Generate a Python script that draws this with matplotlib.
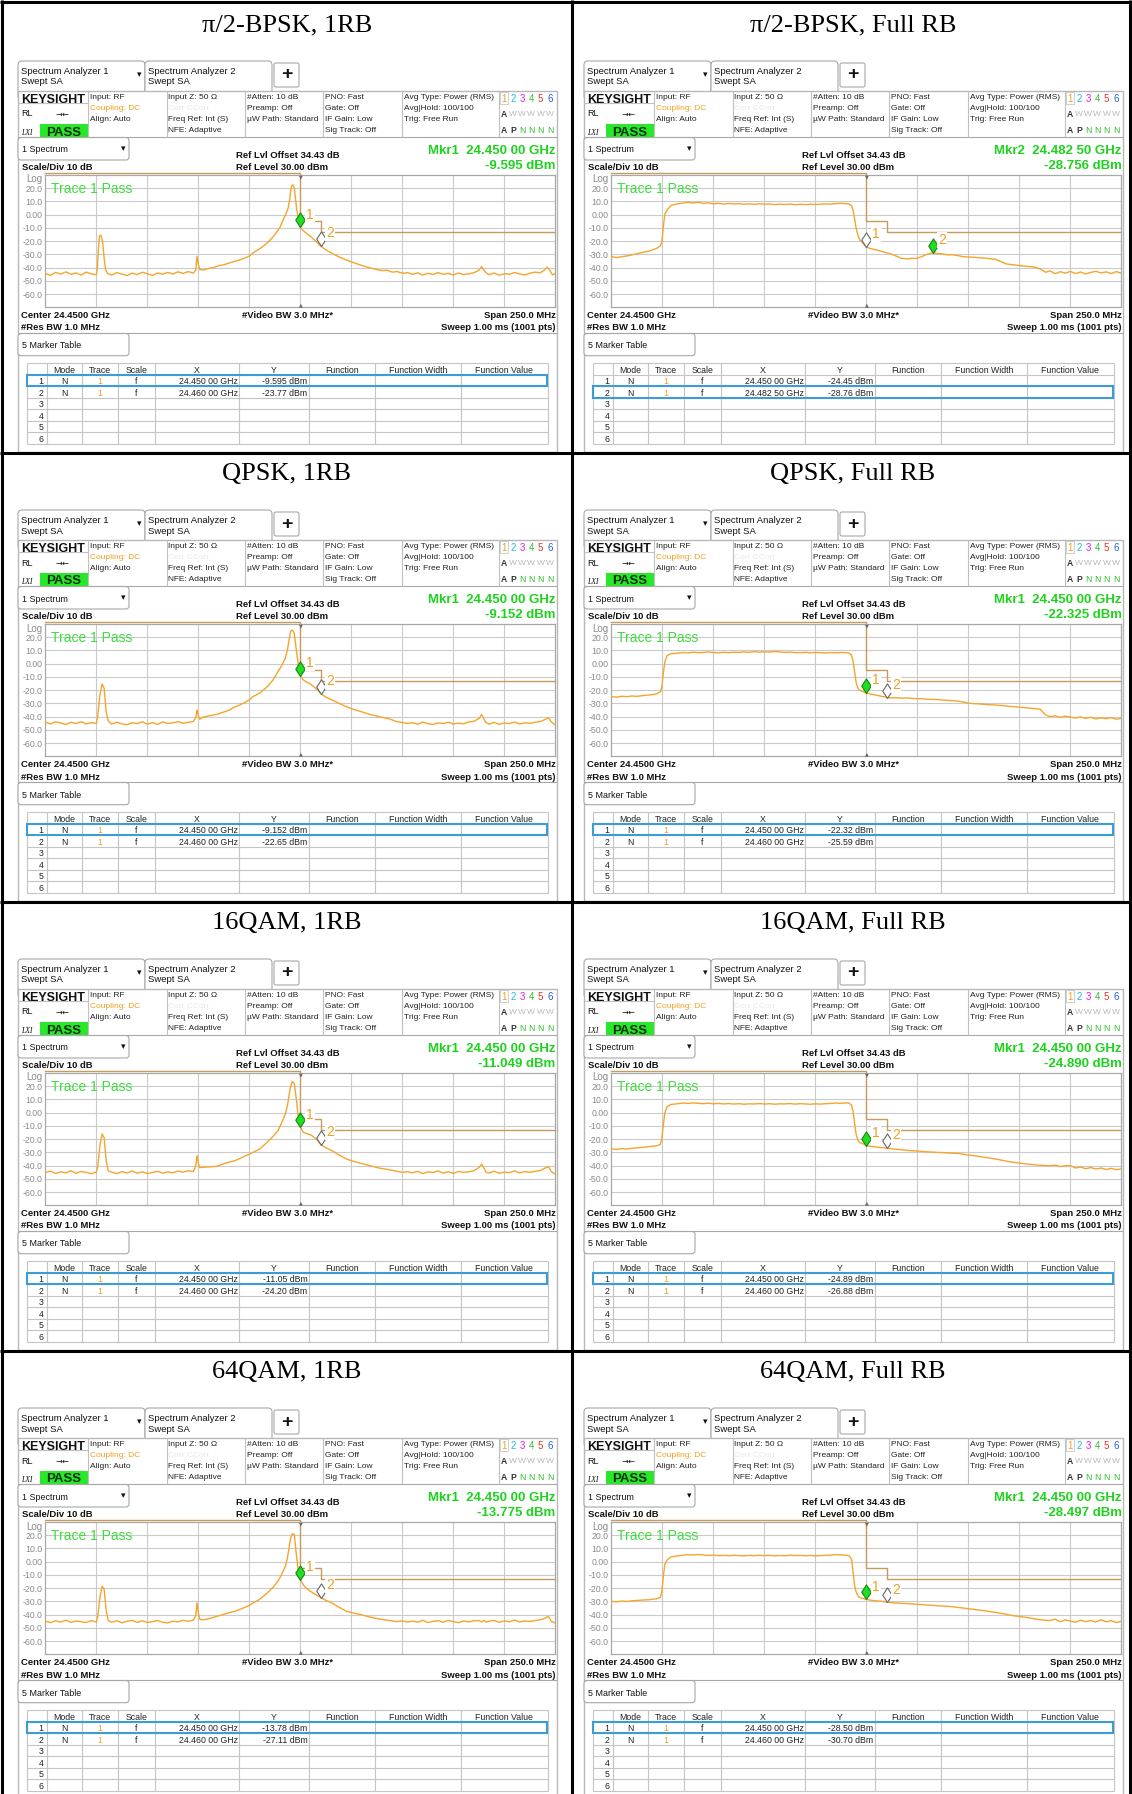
import numpy as np
import matplotlib
matplotlib.use('Agg')
import matplotlib.pyplot as plt
from matplotlib.patches import Rectangle, FancyBboxPatch
from matplotlib.path import Path

plt.rcParams['font.family'] = ['Liberation Sans', 'DejaVu Sans']

# ------------------------------------------------------------------ data
titles = ["π/2-BPSK, 1RB", "π/2-BPSK, Full RB", "QPSK, 1RB", "QPSK, Full RB",
          "16QAM, 1RB", "16QAM, Full RB", "64QAM, 1RB", "64QAM, Full RB"]

# frequency offsets from 24.4500 GHz centre, MHz
bpsk_1rb_f = [-125, -122.5, -120, -117.5, -115, -112.5, -110, -107.5, -105, -102.5, -100,
              -99.5, -99, -98.5, -97.8, -97, -96.2, -95.5, -94.5,
              -92.5, -90, -87.5, -85, -82.5, -80, -77.5, -75, -72.5, -70, -67.5, -65, -62.5, -60, -57.5, -55, -52.5,
              -51.3, -50.7, -50, -49.3,
              -47.5, -45, -42.5, -40, -37.5, -35, -32.5, -30, -27.5, -25, -22.5, -20, -17.5, -15, -12.5, -10,
              -8.5, -7, -6, -5.2, -4.7, -4.2, -3.6, -3, -2.4, -1.8, -1, -0.3,
              0, 1, 2.5, 5, 7.5, 10, 12.5, 15, 17.5, 20, 22.5, 25, 27.5, 30, 32.5, 35, 37.5, 40, 42.5, 45, 47.5, 50, 52.5,
              55, 57.5, 60, 62.5, 65, 67.5, 70, 72.5, 75, 77.5, 80, 82.5, 85,
              87.5, 88.8, 90, 91,
              92.5, 95, 97.5, 100, 102.5, 105, 107.5, 110, 112.5, 115, 117.5,
              119.5, 121, 122.5, 123.5, 125]
bpsk_1rb_db = [-44.5, -45.8, -43.6, -44.9, -43.2, -45.1, -44.0, -45.6, -43.4, -44.8, -45.3,
               -40, -26, -16, -15.5, -20, -33, -41.5, -44.5,
               -45.6, -43.8, -44.9, -46.0, -44.2, -45.3, -43.5, -44.7, -45.9, -44.1, -45.0, -43.6, -44.8, -43.2, -44.4, -43.0, -44.1,
               -42, -31.5, -38, -41.5,
               -41.8, -40.6, -39.9, -38.5, -37.8, -36.6, -35.4, -34.3, -33.0, -31.2, -28.0, -25.8, -23.0, -19.5, -15.0, -9.5,
               -4, 1, 5, 12, 19, 22, 22.5, 20, 12, 4, -3, -8,
               -9.6, -11.5, -13.5, -16.5, -20.0, -23.8, -26.5, -28.8, -30.8, -32.6, -34.2, -35.7, -37.0, -38.3, -39.5, -40.5, -41.5, -42.2, -42.0, -43.4, -43.0, -44.3, -43.8,
               -45.1, -44.0, -45.7, -44.3, -45.2, -43.8, -45.0, -44.4, -45.6, -44.1, -45.3, -44.7, -43.9,
               -42, -39.2, -42, -44,
               -45.4, -44.1, -45.8, -44.6, -45.0, -43.7, -44.9, -45.5, -44.2, -43.4, -44.0,
               -42, -39.7, -42.5, -45.5, -44.5]

onerb_f = [-125, -122.5, -120, -117.5, -115, -112.5, -110, -107.5, -105, -102.5, -100,
           -99.3, -98.3, -97.2, -96.2, -95.2, -94.2,
           -92.5, -90, -87.5, -85, -82.5, -80, -77.5, -75, -72.5, -70, -67.5, -65, -62.5, -60, -57.5, -55, -52.5,
           -51.3, -50.7, -50, -49.3,
           -48, -45, -41, -37.5, -35, -32, -30, -27.5, -25, -23.3, -20, -16.3, -13.5, -11, -9, -7.4, -6.4, -5.7, -4.8, -3.9, -3, -2.1, -1.2, -0.35,
           0, 1.4, 3, 4.9, 7, 8.5, 10, 12.5, 15.5, 19, 22.6, 26, 29.7, 34, 38.5, 43.8, 47.3, 50, 52.5,
           55, 57.5, 60, 62.5, 65, 67.5, 70, 72.5, 75, 77.5, 80, 82.5, 85,
           87.5, 88.9, 90, 91,
           92.5, 95, 97.5, 100, 102.5, 105, 107.5, 110, 112.5, 115, 117.5,
           119.5, 121.6, 123, 125]
qpsk_1rb_db = [-44.1, -45.6, -43.9, -44.8, -46.0, -44.3, -45.2, -43.8, -45.5, -44.6, -45.1,
               -38.8, -23.6, -15.3, -18.6, -36.2, -43.3,
               -45.8, -44.2, -45.5, -46.2, -44.6, -45.3, -43.9, -45.7, -44.5, -45.9, -44.0, -45.2, -44.7, -43.8, -45.0, -44.3, -43.6,
               -41, -35, -39.5, -42,
               -40.5, -39.5, -38.3, -36.5, -35.2, -32.5, -31.4, -29.5, -27.3, -24.9, -22.3, -17.4, -12.5, -6, -1, 4.1, 10, 16.6, 24.2, 25.5, 23, 11.6, 1.5, -8.5,
               -9.15, -12.3, -13.8, -15.3, -18, -19.9, -22.6, -25.3, -27.4, -30, -32.5, -34.5, -36.2, -38.3, -40, -41.8, -43.8, -44.5, -45.2,
               -44.6, -45.8, -44.1, -45.4, -46.0, -44.7, -45.3, -44.2, -45.6, -44.9, -45.5, -44.0, -43.6,
               -41.5, -38.3, -42, -44.5,
               -45.7, -44.4, -45.9, -44.8, -45.3, -44.1, -45.6, -44.7, -45.0, -44.3, -43.8,
               -42.5, -40.8, -44, -46.5]
qam16_1rb_db = [-45.3, -44.1, -46.0, -44.7, -45.5, -43.9, -45.8, -44.4, -45.1, -46.2, -44.6,
                -40, -25, -16, -19, -36.5, -44,
                -44.9, -46.1, -44.5, -45.6, -44.0, -45.8, -44.7, -46.0, -45.2, -44.3, -45.7, -44.8, -45.4, -44.1, -45.0, -43.9, -44.5,
                -40.5, -32.5, -38.5, -41.5,
                -41.3, -41.0, -40.5, -38.5, -37.4, -36.2, -34.8, -33.0, -31.3, -30, -27.5, -22.4, -18, -13.6, -7, -1, 5, 11.6, 20, 23.7, 22, 11.6, -1, -9.5,
                -11.05, -14.8, -15.8, -16.6, -19.0, -21.0, -24.2, -26.5, -28.7, -32, -35, -36.8, -38.3, -40, -41.8, -43.2, -44.3, -45.1, -44.6,
                -45.5, -44.3, -46.0, -44.8, -45.2, -44.0, -45.7, -44.6, -45.9, -44.4, -45.1, -44.7, -43.9,
                -41.5, -38.8, -42, -45,
                -45.6, -44.2, -45.8, -44.9, -45.3, -44.0, -45.5, -44.6, -45.1, -44.3, -43.7,
                -42.2, -40.8, -44.5, -46.5]
qam64_1rb_db = [-45.0, -46.1, -44.6, -45.7, -44.2, -45.9, -44.8, -45.4, -46.0, -44.5, -45.6,
                -41, -27, -18.6, -21, -37, -44.5,
                -45.8, -44.6, -46.2, -45.0, -44.4, -45.9, -44.7, -46.0, -45.3, -44.5, -45.8, -46.3, -44.9, -45.5, -44.3, -45.1, -44.2,
                -41, -31.2, -39, -43.5,
                -44, -43.2, -41.3, -39.8, -38.6, -37.5, -36.2, -34.7, -33, -31.2, -28.5, -23.7, -19.5, -14.8, -9, -3.5, 2.5, 9.1, 18, 21.2, 20.5, 7, -5, -12.5,
                -13.78, -17.5, -20.2, -22.4, -24.5, -25.8, -27.11, -29.2, -31.2, -34.5, -37.5, -38.8, -40, -41.8, -43.3, -44.5, -45.3, -44.8, -45.6,
                -44.9, -45.7, -44.3, -46.0, -45.1, -44.6, -45.8, -44.4, -45.3, -46.1, -44.8, -45.5, -44.7,
                -44.5, -45.6, -44.2, -45.7,
                -45.0, -44.4, -45.9, -44.7, -45.4, -44.1, -45.6, -44.8, -45.2, -44.5, -44.0,
                -43.0, -41.3, -45.0, -46.5]

fullrb_f = [-125, -122.5, -120, -117.5, -115, -112.5, -110, -107.5, -105, -102.5, -101,
            -100.3, -99.6, -98.8, -97.6, -95.8,
            -92.5, -90, -87.5, -85, -82.5, -80, -77.5, -75, -72.5, -70, -67.5, -65, -62.5, -60, -57.5, -55, -52.5,
            -50, -47.5, -45, -42.5, -40, -37.5, -35, -32.5, -30, -27.5, -25, -22.5, -20, -17.5, -15, -12.5, -10, -8.5,
            -7.3, -6.5, -5.7, -5, -4, -3, -1.5,
            0, 2.5, 4.9, 8, 11.9, 14.5, 17.2, 20, 22, 24.3, 27, 29.5, 32.5, 34.5, 36.7, 40, 42, 45, 47.3, 50,
            52.5, 55, 57.5, 60, 63.2, 66, 68.5, 72, 76, 80, 82.6, 85, 87.9,
            90, 92.5, 95, 97.5, 100, 102.5, 105, 107.5, 110, 112.5, 115, 117.5, 120, 122.5, 125]
bpsk_full_db = [-31.7, -32.4, -31.8, -31.2, -30.4, -29.5, -28.6, -27.9, -26.8, -25.2, -23.5,
                -21, -10, 0.5, 3.7, 7.0,
                8.3, 8.8, 9.3, 8.9, 9.4, 8.6, 8.9, 8.2, 8.6, 8.0, 8.5, 8.1, 8.4, 7.9, 8.2, 7.8, 8.3,
                7.9, 8.1, 7.6, 8.0, 7.7, 8.1, 7.5, 7.9, 7.6, 8.0, 7.7, 7.9, 8.2, 8.0, 8.4, 8.6, 8.3, 8.1,
                7.0, 3.0, -4, -10.5, -16.5, -19.5, -21.8,
                -24.45, -25.8, -26.6, -28.0, -29.6, -31.2, -33.0, -33.4, -33.0, -33.1, -31.8, -30.0, -28.76, -29.3, -29.5, -30.4, -30.2, -31.0, -31.7, -32.0,
                -32.2, -32.5, -32.7, -33.2, -33.7, -35.5, -37.2, -37.9, -38.6, -39.2, -39.7, -41.0, -43.5,
                -42.4, -44.6, -43.1, -44.2, -42.9, -44.5, -43.3, -44.8, -43.6, -42.8, -44.0, -43.2, -44.5, -43.0, -44.3]
qpsk_full_db = [-24.9, -25.3, -24.6, -25.0, -24.4, -24.7, -24.2, -23.8, -23.4, -22.6, -21.2,
                -18, -8, 1.5, 6.2, 7.6,
                7.9, 8.4, 8.1, 8.7, 8.3, 8.5, 8.9, 8.4, 8.2, 8.6, 8.3, 8.7, 8.5, 8.9, 8.6, 9.1, 8.7,
                9.0, 8.8, 9.2, 8.9, 8.5, 8.8, 8.4, 8.3, 8.6, 8.2, 8.5, 8.3, 8.1, 8.4, 8.2, 8.5, 8.3, 8.0,
                6.5, 1.5, -7, -14.5, -19.1, -20.4, -21.2,
                -22.32, -23.1, -23.8, -24.9, -25.9, -25.7, -26.0, -25.9, -26.2, -26.4, -26.5, -26.8, -27.0, -27.1, -27.4, -27.7, -28.0, -28.3, -28.9, -29.8,
                -30.2, -30.4, -30.7, -31.0, -31.2, -31.6, -32.0, -32.5, -33.0, -33.6, -34.0, -34.3, -38.8,
                -40.0, -39.4, -40.6, -39.7, -40.3, -41.1, -40.2, -41.4, -40.5, -41.8, -40.9, -41.6, -40.7, -42.0, -41.2]
qam16_full_db = [-27.4, -27.8, -27.1, -27.5, -26.9, -26.6, -26.2, -25.9, -25.3, -24.9, -23.9,
                 -20, -10, 0, 4.8, 6.2,
                 6.8, 7.3, 7.0, 7.4, 7.1, 6.8, 7.2, 6.7, 7.0, 6.6, 6.9, 6.5, 6.8, 6.4, 6.7, 6.6, 6.9,
                 6.5, 6.8, 6.4, 6.7, 6.6, 6.9, 6.5, 6.8, 6.6, 6.4, 6.7, 6.5, 6.8, 7.0, 7.3, 7.1, 7.4, 7.2,
                 5.8, 0.5, -9, -16.5, -21.5, -22.8, -23.6,
                 -24.89, -25.5, -26.0, -26.5, -27.2, -27.6, -28.0, -28.4, -28.7, -28.9, -29.2, -29.6, -29.8, -30.0, -30.1, -30.4, -30.6, -30.8, -31.3, -32.0,
                 -32.5, -33.0, -33.6, -34.2, -35.0, -35.8, -36.6, -37.5, -38.3, -39.0, -39.4, -39.7, -40.0,
                 -40.2, -39.6, -40.7, -40.1, -40.0, -41.8, -41.1, -42.3, -41.5, -42.6, -41.8, -42.9, -42.1, -43.1, -42.5]
qam64_full_db = [-30.0, -30.3, -29.8, -30.1, -29.6, -29.3, -29.0, -28.8, -28.5, -27.9, -26.9,
                 -23, -12, -2, 1.5, 3.6,
                 4.4, 4.9, 5.3, 5.0, 5.4, 5.1, 4.7, 5.0, 4.6, 4.8, 4.5, 4.9, 4.6, 4.4, 4.8, 4.5, 4.9,
                 4.6, 4.8, 4.4, 4.7, 4.5, 4.9, 4.6, 4.8, 4.5, 4.7, 4.4, 4.6, 4.8, 5.0, 5.3, 5.1, 4.9, 4.5,
                 2, -8.5, -18.6, -23, -26.2, -27.2, -27.9,
                 -28.50, -29.2, -29.6, -30.1, -30.9, -31.2, -31.4, -31.7, -31.9, -32.1, -32.4, -32.7, -33.0, -33.3, -33.5, -33.7, -34.0, -34.6, -35.0, -35.6,
                 -36.0, -36.5, -37.0, -37.6, -38.3, -39.0, -39.8, -40.8, -41.6, -42.5, -43.3, -43.8, -44.3,
                 -44.5, -43.4, -45.4, -44.0, -44.9, -45.8, -44.2, -45.3, -44.5, -45.6, -43.9, -45.4, -44.6, -46.0, -45.0]

trace_f = [bpsk_1rb_f, fullrb_f, onerb_f, fullrb_f, onerb_f, fullrb_f, onerb_f, fullrb_f]
trace_db = [bpsk_1rb_db, bpsk_full_db, qpsk_1rb_db, qpsk_full_db,
            qam16_1rb_db, qam16_full_db, qam64_1rb_db, qam64_full_db]

# limit line (MHz offset, dBm)
limit_f = [-125, 0, 0, 10, 10, 125]
limit_db = [31.2, 31.2, -5, -5, -13, -13]

# markers
m1_f = [0, 0, 0, 0, 0, 0, 0, 0]
m1_db = [-9.595, -24.45, -9.152, -22.325, -11.049, -24.890, -13.775, -28.497]
m2_f = [10, 32.5, 10, 10, 10, 10, 10, 10]
m2_db = [-23.77, -28.756, -22.65, -25.59, -24.20, -26.88, -27.11, -30.70]
active = [1, 2, 1, 1, 1, 1, 1, 1]
mkr_head = ["Mkr1  24.450 00 GHz", "Mkr2  24.482 50 GHz", "Mkr1  24.450 00 GHz", "Mkr1  24.450 00 GHz",
            "Mkr1  24.450 00 GHz", "Mkr1  24.450 00 GHz", "Mkr1  24.450 00 GHz", "Mkr1  24.450 00 GHz"]
mkr_val = ["-9.595 dBm", "-28.756 dBm", "-9.152 dBm", "-22.325 dBm",
           "-11.049 dBm", "-24.890 dBm", "-13.775 dBm", "-28.497 dBm"]
tbl_x1 = ["24.450 00 GHz"] * 8
tbl_x2 = ["24.460 00 GHz", "24.482 50 GHz", "24.460 00 GHz", "24.460 00 GHz",
          "24.460 00 GHz", "24.460 00 GHz", "24.460 00 GHz", "24.460 00 GHz"]
tbl_y1 = ["-9.595 dBm", "-24.45 dBm", "-9.152 dBm", "-22.32 dBm", "-11.05 dBm", "-24.89 dBm", "-13.78 dBm", "-28.50 dBm"]
tbl_y2 = ["-23.77 dBm", "-28.76 dBm", "-22.65 dBm", "-25.59 dBm", "-24.20 dBm", "-26.88 dBm", "-27.11 dBm", "-30.70 dBm"]

ytick_vals = [20, 10, 0, -10, -20, -30, -40, -50, -60]
ytick_txt = ["20.0", "10.0", "0.00", "-10.0", "-20.0", "-30.0", "-40.0", "-50.0", "-60.0"]
xgrid_vals = [-100, -75, -50, -25, 0, 25, 50, 75, 100]

for k in range(8):
    assert len(trace_f[k]) == len(trace_db[k]), (k, len(trace_f[k]), len(trace_db[k]))

# ------------------------------------------------------------------ figure
W, H = 1132, 1794
fig = plt.figure(figsize=(W / 100, H / 100), dpi=100)
bg = fig.add_axes([0, 0, 1, 1], zorder=0)
bg.set_xlim(0, W)
bg.set_ylim(H, 0)
bg.axis('off')
bg.set_autoscale_on(False)

GRAY = '#b4b4b4'
TRACE = '#f5a52c'
LIMIT = '#c99b5a'
GREEN_TXT = '#1ed21e'
ORANGE = '#f0a020'


def T(x, y, s, size, color='#111111', ha='left', weight='normal', family=None, style='normal', va='center_baseline', z=3):
    kw = dict(fontsize=size, color=color, ha=ha, va=va, fontweight=weight, fontstyle=style, zorder=z)
    if family:
        kw['family'] = family
    bg.text(x, y, s, **kw)


def FT(x, y, s, size, color='#111111', ha='left', weight='normal', va='center_baseline', family=None):
    kw = dict(fontsize=size, color=color, ha=ha, va=va, fontweight=weight, zorder=5)
    if family:
        kw['family'] = family
    fig.text(x / W, 1 - y / H, s, **kw)


def LN(xs, ys, color=GRAY, lw=0.8, z=2):
    bg.plot(xs, ys, color=color, lw=lw, solid_capstyle='butt', zorder=z)


def RECT(x0, y0, x1, y1, fc='white', ec=GRAY, lw=0.8, z=1):
    bg.add_patch(Rectangle((x0, y0), x1 - x0, y1 - y0, facecolor=fc, edgecolor=ec, lw=lw, zorder=z))


def RBOX(x0, y0, x1, y1, r=3, fc='white', ec=GRAY, lw=0.8, z=1):
    bg.add_patch(FancyBboxPatch((x0, y0), x1 - x0, y1 - y0,
                                boxstyle=f'round,pad=0,rounding_size={r}',
                                facecolor=fc, edgecolor=ec, lw=lw, zorder=z))


diamond = Path([(0, 0), (0.65, 1), (0, 2), (-0.65, 1), (0, 0)],
               [Path.MOVETO, Path.LINETO, Path.LINETO, Path.LINETO, Path.CLOSEPOLY])

col_x = [27.3, 46.5, 81.8, 118.1, 154.5, 239.2, 309.0, 375.1, 461.0, 547.8]
heads = ["", "Mode", "Trace", "Scale", "X", "Y", "Function", "Function Width", "Function Value"]


def draw_panel(i, dx, dy):
    X = lambda x: x + dx
    Y = lambda y: y + dy
    # title
    T(X(287), Y(22.5), titles[i], 19, color='black', ha='center',
      family=['Liberation Serif', 'DejaVu Serif'])
    # tabs
    RBOX(X(18), Y(61), X(145), Y(100), r=4, ec='#a8a8a8', z=0.4)
    RBOX(X(145), Y(61), X(272), Y(100), r=4, ec='#a8a8a8', z=0.4)
    RBOX(X(274), Y(63), X(299), Y(87), r=2, ec='#a8a8a8', z=0.6)
    T(X(286.5), Y(75), '+', 14, weight='bold', ha='center', va='center', z=3)
    T(X(21), Y(70.7), 'Spectrum Analyzer 1', 6.8)
    T(X(21), Y(81), 'Swept SA', 6.8)
    T(X(139), Y(75), '▾', 6.5, ha='center', va='center')
    T(X(148), Y(70.7), 'Spectrum Analyzer 2', 6.8)
    T(X(148), Y(81), 'Swept SA', 6.8)
    # screenshot frame
    RECT(X(18), Y(91), X(557), Y(452), fc='white', ec='#b8b8b8', lw=1.0, z=0.5)
    # info panel
    LN([X(18), X(557)], [Y(137), Y(137)], color='#a8a8a8')
    for sx in [88, 166.5, 245, 323, 402, 499]:
        LN([X(sx), X(sx)], [Y(91), Y(137)], color='#c0c0c0')
    LN([X(18), X(88)], [Y(103.3), Y(103.3)], color='#c0c0c0')
    T(X(21), Y(98.5), 'KEYSIGHT', 9, weight='bold')
    T(X(21), Y(113), 'RL', 6.5)
    T(X(62), Y(113), '→←', 6, ha='center', family=['DejaVu Sans'])
    T(X(21), Y(132), 'LXI', 5.5, style='italic', family=['Liberation Serif', 'DejaVu Serif'])
    RECT(X(40), Y(124), X(88), Y(137), fc='#29e829', ec='none', z=1.5)
    T(X(64), Y(131), 'PASS', 9.5, weight='bold', ha='center', color='#0b2e0b')
    rows = [96.9, 107.7, 118.4, 129.2]
    info = [(90, ['Input: RF', 'Coupling: DC', 'Align: Auto', ''], ['#222', ORANGE, '#222', '#222']),
            (168.5, ['Input Z: 50 Ω', 'Corr CCorr', 'Freq Ref: Int (S)', 'NFE: Adaptive'], ['#222', '#e8e8e8', '#222', '#222']),
            (247, ['#Atten: 10 dB', 'Preamp: Off', 'µW Path: Standard', ''], ['#222'] * 4),
            (325, ['PNO: Fast', 'Gate: Off', 'IF Gain: Low', 'Sig Track: Off'], ['#222'] * 4),
            (404, ['Avg Type: Power (RMS)', 'Avg|Hold: 100/100', 'Trig: Free Run', ''], ['#222'] * 4)]
    for cx, lines, cols in info:
        for ry, s, c in zip(rows, lines, cols):
            if s:
                T(X(cx), Y(ry), s, 6.0, color=c)
    tcols = ['#f0a020', '#22b8e8', '#e020e0', '#30c030', '#e83030', '#2060e0']
    txs = [503.5, 512.8, 522.1, 531.4, 540.7, 550.0]
    RECT(X(499.5), Y(92), X(507.5), Y(104), fc='none', ec='#c8c8c8', lw=0.6, z=2)
    for tx, c, s in zip(txs, tcols, '123456'):
        T(X(tx), Y(98), s, 7, color=c, ha='center')
    T(X(503.5), Y(113.5), 'A', 6.2, ha='center', weight='bold', color='#333')
    for tx in txs[1:]:
        T(X(tx), Y(113.5), 'W', 6.0, ha='center', color='#b8b8b8')
    T(X(503.5), Y(129.5), 'A', 6.2, ha='center', weight='bold', color='#333')
    T(X(512.8), Y(129.5), 'P', 6.2, ha='center', weight='bold', color='#333')
    for tx in txs[2:]:
        T(X(tx), Y(129.5), 'N', 6.2, ha='center', color='#30c030')
    # spectrum header
    RBOX(X(18), Y(137.5), X(129), Y(160), r=3, ec='#a8a8a8', z=1.2)
    T(X(22), Y(149), '1 Spectrum', 6.4)
    T(X(123.6), Y(149), '▾', 6.5, ha='center', va='center')
    T(X(236), Y(154.5), 'Ref Lvl Offset 34.43 dB', 6.8, weight='bold')
    T(X(236), Y(166.5), 'Ref Level 30.00 dBm', 6.8, weight='bold')
    T(X(22), Y(166.5), 'Scale/Div 10 dB', 6.8, weight='bold')
    T(X(555.5), Y(149.5), mkr_head[i], 9.5, weight='bold', ha='right', color=GREEN_TXT)
    T(X(555.5), Y(164.5), mkr_val[i], 9.5, weight='bold', ha='right', color=GREEN_TXT)
    T(X(42.5), Y(178.5), 'Log', 7, ha='right', color='#8a8a8a')
    # bottom annotation
    T(X(20.7), Y(314.5), 'Center 24.4500 GHz', 6.8, weight='bold')
    T(X(287), Y(314.5), '#Video BW 3.0 MHz*', 6.8, weight='bold', ha='center')
    T(X(555.5), Y(314.5), 'Span 250.0 MHz', 6.8, weight='bold', ha='right')
    T(X(20.7), Y(327), '#Res BW 1.0 MHz', 6.8, weight='bold')
    T(X(555.5), Y(327), 'Sweep 1.00 ms (1001 pts)', 6.8, weight='bold', ha='right')
    LN([X(18), X(557)], [Y(333), Y(333)], color='#a8a8a8')
    # marker table
    RBOX(X(18), Y(333.5), X(129), Y(355.7), r=3, ec='#a8a8a8', z=1.2)
    T(X(22), Y(345), '5 Marker Table', 6.4)
    ry0, rh = 363.3, 11.5
    for k in range(8):
        LN([X(col_x[0]), X(col_x[-1])], [Y(ry0 + k * rh)] * 2, color='#c4c4c4', lw=0.8)
    for cx in col_x:
        LN([X(cx), X(cx)], [Y(ry0), Y(ry0 + 7 * rh)], color='#c4c4c4', lw=0.8)
    for c in range(1, 9):
        T(X((col_x[c] + col_x[c + 1]) / 2), Y(ry0 + rh / 2 + 0.3), heads[c], 6.3, ha='center', color='#222')
    for r in range(6):
        yc = ry0 + rh * (r + 1.5) + 0.3
        T(X(43.5), Y(yc), str(r + 1), 6.3, ha='right', color='#222')
    xs_t = [tbl_x1[i], tbl_x2[i]]
    ys_t = [tbl_y1[i], tbl_y2[i]]
    for r in range(2):
        yc = ry0 + rh * (r + 1.5) + 0.3
        T(X((col_x[1] + col_x[2]) / 2), Y(yc), 'N', 6.3, ha='center', color='#222')
        T(X((col_x[2] + col_x[3]) / 2), Y(yc), '1', 6.3, ha='center', color=ORANGE)
        T(X((col_x[3] + col_x[4]) / 2), Y(yc), 'f', 6.3, ha='center', color='#222')
        T(X(col_x[5] - 1.5), Y(yc), xs_t[r], 6.3, ha='right', color='#222')
        T(X(col_x[6] - 1.5), Y(yc), ys_t[r], 6.3, ha='right', color='#222')
    hl = active[i]
    RECT(X(col_x[0]), Y(ry0 + rh * hl), X(col_x[-1] - 1), Y(ry0 + rh * (hl + 1)),
         fc='none', ec='#3d9bd5', lw=1.5, z=3)

    # ---------------- spectrum plot
    px0, px1, py0, py1 = 45.4, 555.4, 175.0, 307.3
    ax = fig.add_axes([X(px0) / W, 1 - Y(py1) / H, (px1 - px0) / W, (py1 - py0) / H], zorder=1)
    ax.set_xlim(-125, 125)
    ax.set_ylim(-70, 30)
    ax.set_xticks(xgrid_vals)
    ax.set_xticklabels([])
    ax.set_yticks(ytick_vals)
    ax.set_yticklabels(ytick_txt, fontsize=6.3, color='#8a8a8a')
    ax.tick_params(axis='both', length=0)
    ax.tick_params(axis='y', pad=2.3)
    ax.grid(True, color='#cacaca', lw=0.8)
    ax.set_axisbelow(True)
    for sp in ax.spines.values():
        sp.set_color('#a8a8a8')
        sp.set_linewidth(0.9)
    ax.plot(limit_f, limit_db, color=LIMIT, lw=1.0, zorder=2, clip_on=False)
    ax.plot(trace_f[i], trace_db[i], color=TRACE, lw=1.0, zorder=3)
    mk = [(m1_f[i], m1_db[i], 1), (m2_f[i], m2_db[i], 2)]
    for mf, md, num in mk:
        is_act = (num == active[i])
        ax.plot([mf], [md], marker=diamond, markersize=21, linestyle='none',
                markerfacecolor='#22dd22' if is_act else 'white',
                markeredgecolor='#118811' if is_act else '#666666', markeredgewidth=0.8, zorder=5)
        ax.annotate(str(num), (mf, md), xytext=(6.8, 9.2), textcoords='offset points',
                    fontsize=10, color=ORANGE, ha='center', va='center', zorder=6,
                    bbox=dict(boxstyle='square,pad=0.08', fc='white', ec='none'))
    FT(X(51), Y(187.5), 'Trace 1 Pass', 10, color='#3edc3e')
    FT(X(300.4), Y(176.8), '▼', 3.5, color='#666666', ha='center', va='center', family=['DejaVu Sans'])
    FT(X(300.4), Y(305.2), '▲', 3.5, color='#666666', ha='center', va='center', family=['DejaVu Sans'])


for i in range(8):
    r, c = divmod(i, 2)
    draw_panel(i, 566 * c, 449 * r)

# cell borders
for yy in [2, 453.5, 902.5, 1351.5]:
    LN([0, W], [yy, yy], color='black', lw=2.2, z=4)
for xx in [2, 571.5, 1130]:
    LN([xx, xx], [0, H], color='black', lw=2.2, z=4)

fig.savefig('out.png', dpi=100, facecolor='white')
